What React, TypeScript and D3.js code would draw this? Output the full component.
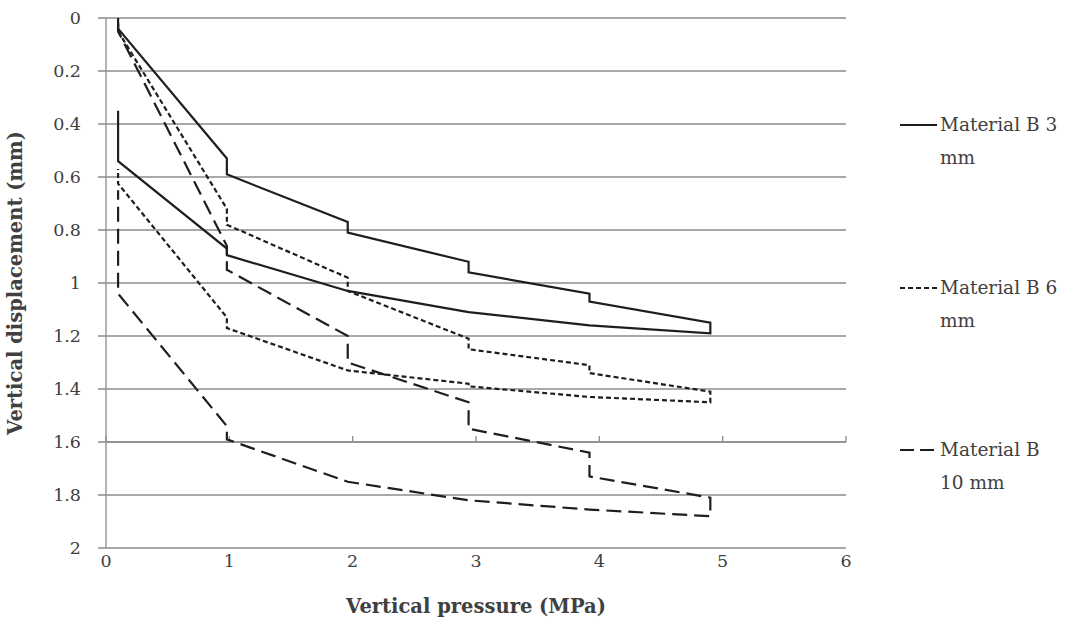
import React from "react";
import * as d3 from "d3";

// ---- data ----
const xTicks = [0, 1, 2, 3, 4, 5, 6];
const yTicks = [0, 0.2, 0.4, 0.6, 0.8, 1, 1.2, 1.4, 1.6, 1.8, 2];

const mat3Pressure = [0.098, 0.098, 0.98, 0.98, 1.96, 1.96, 2.94, 2.94, 3.92, 3.92, 4.9, 4.9, 3.92, 2.94, 1.96, 0.98, 0.98, 0.098, 0.098];
const mat3Disp = [0, 0.04, 0.53, 0.59, 0.77, 0.81, 0.92, 0.96, 1.04, 1.07, 1.15, 1.19, 1.16, 1.11, 1.03, 0.895, 0.87, 0.54, 0.35];

const mat6Pressure = [0.098, 0.098, 0.98, 0.98, 1.96, 1.96, 2.94, 2.94, 3.92, 3.92, 4.9, 4.9, 3.92, 2.94, 2.94, 1.96, 0.98, 0.98, 0.098, 0.098];
const mat6Disp = [0.02, 0.05, 0.72, 0.78, 0.98, 1.03, 1.21, 1.25, 1.31, 1.34, 1.41, 1.45, 1.43, 1.39, 1.38, 1.33, 1.17, 1.13, 0.625, 0.57];

const mat10Pressure = [0.098, 0.098, 0.98, 0.98, 1.96, 1.96, 2.94, 2.94, 3.92, 3.92, 4.9, 4.9, 3.92, 2.94, 1.96, 0.98, 0.98, 0.098, 0.098];
const mat10Disp = [0.02, 0.05, 0.86, 0.95, 1.2, 1.3, 1.45, 1.55, 1.64, 1.73, 1.81, 1.88, 1.855, 1.82, 1.75, 1.59, 1.54, 1.04, 0.65];

const seriesNames = [["Material B 3", "mm"], ["Material B 6", "mm"], ["Material B", "10 mm"]];
const seriesDash = ["none", "5,3", "15,7"];

const W = 1067, H = 629;
const FONT = "'DejaVu Serif'";

export default function App() {
  const x = d3.scaleLinear().domain([0, 6]).range([106, 846]);
  const y = d3.scaleLinear().domain([0, 2]).range([18, 548]);
  const line = d3.line<[number, number]>().x(d => x(d[0])).y(d => y(d[1]));
  const series = [
    d3.zip(mat3Pressure, mat3Disp) as [number, number][],
    d3.zip(mat6Pressure, mat6Disp) as [number, number][],
    d3.zip(mat10Pressure, mat10Disp) as [number, number][],
  ];
  const axisY = 1.6;
  const gridColor = "#8c8c8c";
  const lineColor = "#1e1e1e";
  const textColor = "#404040";
  const legendY = [125, 288, 450];
  const ts = { fontFamily: FONT };

  return (
    <svg width={W} height={H} style={{ position: "absolute", left: 0, top: 0, background: "#fff" }}>
      <rect x={0} y={0} width={W} height={H} fill="#fff" />
      {yTicks.map(t => (
        <line key={"g" + t} x1={98} x2={x(6)} y1={y(t)} y2={y(t)} stroke={gridColor} strokeWidth={1.3} />
      ))}
      <line x1={x(0)} x2={x(0)} y1={y(0)} y2={y(2)} stroke={gridColor} strokeWidth={1.3} />
      <line x1={x(0)} x2={x(6)} y1={y(axisY)} y2={y(axisY)} stroke={gridColor} strokeWidth={1.3} />
      {xTicks.map(t => (
        <line key={"xt" + t} x1={x(t)} x2={x(t)} y1={y(axisY)} y2={y(axisY) - 6} stroke={gridColor} strokeWidth={1.3} />
      ))}
      {yTicks.map(t => (
        <text key={"yl" + t} x={81} y={y(t)} dy="0.35em" textAnchor="end" fontSize={17.5} fill={textColor} style={ts}>
          {String(t)}
        </text>
      ))}
      {xTicks.map(t => (
        <text key={"xl" + t} x={x(t)} y={y(2) + 7} dy="0.71em" textAnchor="middle" fontSize={17.5} fill={textColor} style={ts}>
          {String(t)}
        </text>
      ))}
      <text x={(x(0) + x(6)) / 2} y={613} textAnchor="middle" fontSize={19.5} fontWeight="bold" fill={textColor} style={ts}>
        Vertical pressure (MPa)
      </text>
      <text transform={`translate(22, ${(y(0) + y(2)) / 2}) rotate(-90)`} textAnchor="middle" fontSize={19.5}
        fontWeight="bold" fill={textColor} style={ts}>
        Vertical displacement (mm)
      </text>
      {series.map((s, i) => (
        <path key={"s" + i} d={line(s) ?? ""} fill="none" stroke={lineColor} strokeWidth={2.2}
          strokeDasharray={seriesDash[i]} strokeLinejoin="miter" />
      ))}
      {seriesNames.map((n, i) => (
        <g key={"lg" + i}>
          <line x1={900} x2={937} y1={legendY[i]} y2={legendY[i]} stroke={lineColor} strokeWidth={2.2}
            strokeDasharray={i === 2 ? "14,6" : seriesDash[i]} />
          <text x={940} y={legendY[i]} dy="0.35em" fontSize={18.5} fill={textColor} style={ts}>{n[0]}</text>
          <text x={940} y={legendY[i] + 33} dy="0.35em" fontSize={18.5} fill={textColor} style={ts}>{n[1]}</text>
        </g>
      ))}
    </svg>
  );
}
